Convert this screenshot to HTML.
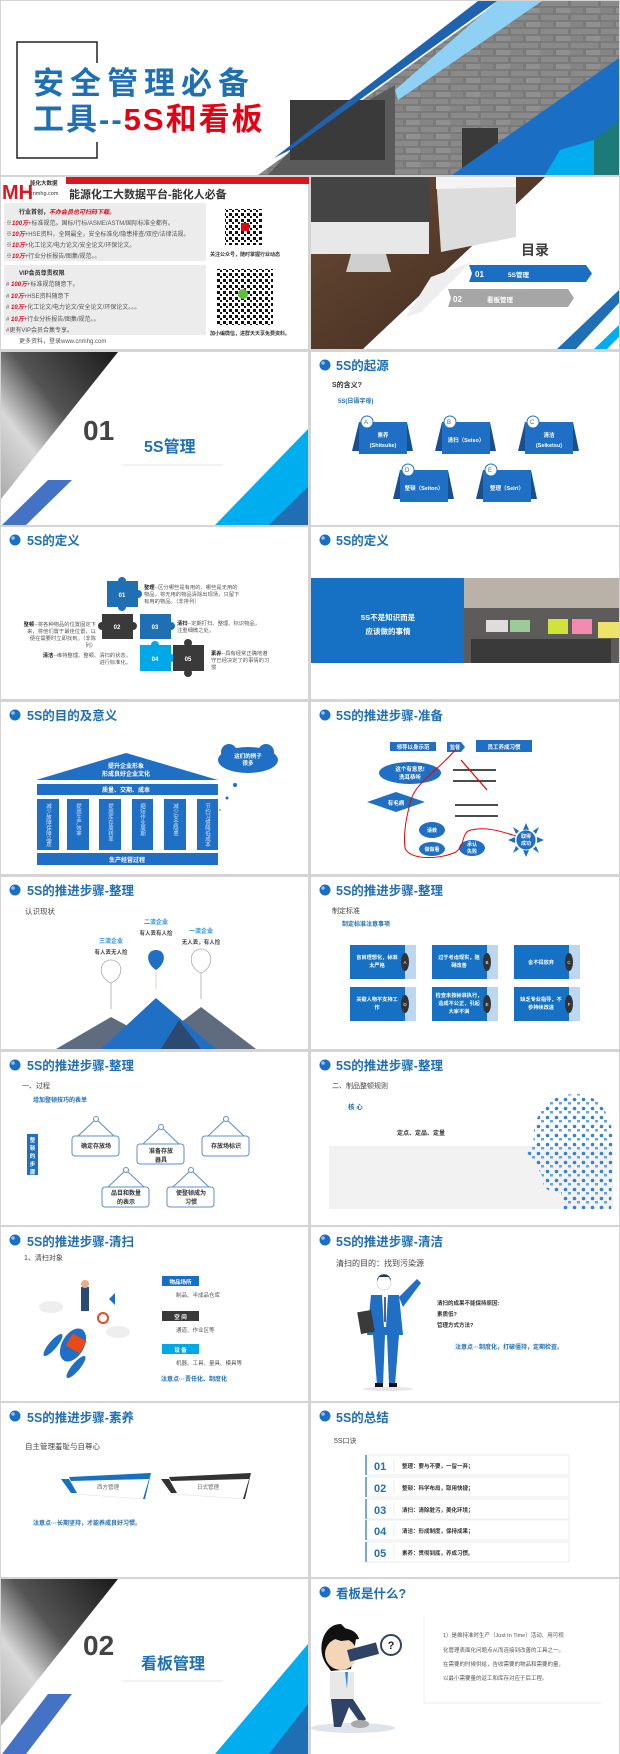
<!DOCTYPE html>
<html><head><meta charset="utf-8">
<style>
html,body{margin:0;padding:0;background:#d4d4d4;}
svg{display:block;font-family:"Liberation Sans","Noto Sans CJK SC",sans-serif;}
.h{font-size:12.5px;font-weight:bold;fill:#1f6fb5;}
.s{font-size:6px;fill:#555;}
.w{fill:#fff;font-weight:bold;}
.b{fill:#1f6fb5;font-weight:bold;}
</style></head><body>
<svg width="620" height="1754" viewBox="0 0 620 1754" xmlns="http://www.w3.org/2000/svg">
<defs>
<linearGradient id="gphoto" x1="0" y1="0" x2="1" y2="1"><stop offset="0" stop-color="#6a6a6a"/><stop offset="1" stop-color="#9a9a9a"/></linearGradient>
<linearGradient id="ghand" x1="1" y1="0" x2="0" y2="1"><stop offset="0" stop-color="#1a1a1a"/><stop offset="0.45" stop-color="#555"/><stop offset="0.7" stop-color="#d8d8d8"/><stop offset="1" stop-color="#aaa"/></linearGradient>
<linearGradient id="gwood" x1="0" y1="0" x2="1" y2="1"><stop offset="0" stop-color="#6b4a35"/><stop offset="1" stop-color="#3d2a1e"/></linearGradient>
<pattern id="qr" width="6" height="6" patternUnits="userSpaceOnUse"><rect width="6" height="6" fill="#fff"/><rect width="3" height="3" fill="#111"/><rect x="3" y="3" width="2" height="2" fill="#111"/></pattern>
<pattern id="brick" width="30" height="14" patternUnits="userSpaceOnUse"><rect width="30" height="14" fill="#7a7a7a"/><rect x="1" y="1" width="27" height="5" fill="#8a8a8a"/><rect x="-14" y="8" width="27" height="5" fill="#858585"/><rect x="16" y="8" width="27" height="5" fill="#909090"/></pattern>
<pattern id="icons" width="9" height="9" patternUnits="userSpaceOnUse"><circle cx="2.5" cy="2.5" r="1.8" fill="#2b7bd0"/><rect x="5" y="5" width="3" height="2.5" fill="#5aa0e6"/></pattern>
<g id="hdr"><circle cx="14" cy="13" r="5.5" fill="#1a6fc4"/><circle cx="12" cy="11" r="1.8" fill="#8fc3f0"/></g>
</defs>

<!-- ===== TITLE SLIDE ===== -->
<rect x="1" y="1" width="618" height="174" fill="#fff"/>
<polygon points="500,1 619,1 619,175 258,175" fill="url(#brick)"/>
<polygon points="268,175 300,140 395,85 395,175" fill="#5a5a5a"/>
<rect x="290" y="100" width="95" height="60" fill="#3a3a3a"/>
<polygon points="497,1 542,1 398,100 395,90" fill="#8fd0f5"/>
<polygon points="478,1 497,1 290,150 274,158" fill="#1f62ad"/>
<rect x="462" y="128" width="36" height="40" fill="#3a3a3a"/>
<polygon points="619,58 619,175 452,175" fill="#1a6fc4"/>
<polygon points="594,140 619,120 619,175 594,175" fill="#1e7a78"/>
<polygon points="560,150 594,140 594,175 545,175" fill="#00aeef"/>
<polyline points="97,63 97,42 17,42 17,158 97,158 97,142" fill="none" stroke="#222" stroke-width="1.5"/>
<text x="33" y="94" style="font-size:31px;font-weight:bold;letter-spacing:6px;fill:#1f6fb5">安全管理必备</text>
<text x="33" y="130" style="font-size:31px;font-weight:bold;letter-spacing:2px;fill:#1f6fb5">工具--<tspan fill="#e60012">5S和看板</tspan></text>

<!-- ===== ROW 0 LEFT ===== -->
<g transform="translate(1,177)">
<rect width="307" height="172" fill="#fff"/>
<rect x="65" y="0" width="243" height="7" fill="#d7191f"/>
<text x="1" y="22" style="font-size:20px;font-weight:bold;fill:#d7191f">MH</text>
<text x="29" y="8" style="font-size:5.5px;fill:#333;font-weight:bold">能化大数据</text>
<text x="29" y="18" style="font-size:5.5px;fill:#333">cnmhg.com</text>
<text x="68" y="21" style="font-size:11px;font-weight:bold;fill:#333">能源化工大数据平台-能化人必备</text>
<rect x="3" y="26" width="202" height="58" fill="#ececec"/>
<text x="18" y="37" class="s" style="font-weight:bold;fill:#333">行业首创，<tspan fill="#e60012" font-style="italic">不办会员也可扫码下载。</tspan></text>
<text x="5" y="48" class="s">※<tspan fill="#e60012" font-weight="bold" font-style="italic">100万</tspan>+标准规范。国标/行标/ASME/ASTM/国际标准全都有。</text>
<text x="5" y="59" class="s">※<tspan fill="#e60012" font-weight="bold" font-style="italic">10万</tspan>+HSE资料，全网最全，安全标准化/隐患排查/双控/法律法规。</text>
<text x="5" y="70" class="s">※<tspan fill="#e60012" font-weight="bold" font-style="italic">10万</tspan>+化工论文/电力论文/安全论文/环保论文。</text>
<text x="5" y="81" class="s">※<tspan fill="#e60012" font-weight="bold" font-style="italic">10万</tspan>+行业分析报告/图集/规范。。</text>
<rect x="3" y="88" width="202" height="70" fill="#ececec"/>
<text x="18" y="98" class="s" style="font-weight:bold;fill:#333">VIP会员尊贵权限</text>
<text x="5" y="109" class="s"># <tspan fill="#e60012" font-weight="bold" font-style="italic">100万</tspan>+标准规范随意下。</text>
<text x="5" y="121" class="s"># <tspan fill="#e60012" font-weight="bold" font-style="italic">10万</tspan>+HSE资料随意下</text>
<text x="5" y="132" class="s"># <tspan fill="#e60012" font-weight="bold" font-style="italic">10万</tspan>+化工论文/电力论文/安全论文/环保论文。。。</text>
<text x="5" y="144" class="s"># <tspan fill="#e60012" font-weight="bold" font-style="italic">10万</tspan>+行业分析报告/图集/规范。。</text>
<text x="5" y="155" class="s">#更有VIP会员合集专享。</text>
<text x="18" y="166" class="s">更多资料，登录www.cnmhg.com</text>
<rect x="224" y="32" width="37" height="36" fill="url(#qr)"/>
<rect x="240" y="46" width="8" height="8" fill="#e60012"/>
<text x="209" y="79" style="font-size:5px;fill:#333;font-weight:bold">关注公众号，随时掌握行业动态</text>
<rect x="216" y="92" width="56" height="56" fill="url(#qr)"/>
<circle cx="242" cy="117" r="5" fill="#5bbf3a"/>
<text x="209" y="158" style="font-size:5px;fill:#333;font-weight:bold">加小编微信，进群天天享免费资料。</text>
</g>

<!-- ===== ROW 0 RIGHT ===== -->
<g transform="translate(311,177)">
<rect width="308" height="172" fill="#fff"/>
<polygon points="0,0 234,0 52,172 0,172" fill="url(#gwood)"/>
<rect x="0" y="0" width="118" height="45" fill="#444"/>
<rect x="0" y="45" width="118" height="32" fill="#e8e8e8"/>
<polygon points="40,77 75,77 80,95 35,95" fill="#cfcfcf"/>
<polygon points="125,0 205,0 205,60 130,75" fill="#ddd"/>
<polygon points="125,0 205,0 205,10 125,12" fill="#f4f4f4"/>
<polygon points="120,100 160,85 110,135 95,140" fill="#eee"/>
<text x="210" y="78" style="font-size:14px;font-weight:bold;fill:#404040">目录</text>
<polygon points="158,88 275,88 281,96.5 275,105 158,105 161,96.5" fill="#1a6fc4"/>
<text x="164" y="100" class="w" style="font-size:8px">01</text>
<text x="197" y="100" class="w" style="font-size:6.5px">5S管理</text>
<polygon points="137,112 257,112 263,121 257,130 137,130 140,121" fill="#a6a6a6"/>
<text x="142" y="125" class="w" style="font-size:8px">02</text>
<text x="176" y="125" class="w" style="font-size:6.5px">看板管理</text>
<polygon points="308,113 308,126 265,172 246,172" fill="#1f6fb5"/>
<polygon points="308,148 308,160 296,172 283,172" fill="#00aeef"/>
</g>

<!-- ===== ROW 1 LEFT (01) ===== -->
<g transform="translate(1,352)">
<rect width="307" height="173" fill="#fff"/>
<polygon points="0,0 117,0 0,147" fill="url(#ghand)"/>
<polygon points="47,128 71,128 25,173 1,173" fill="#4472c4"/>
<polygon points="307,77 307,173 214,173" fill="#00aeef"/>
<polygon points="307,135 307,173 268,173" fill="#1f6fb5"/>
<text x="82" y="88" style="font-size:28px;font-weight:bold;fill:#444">01</text>
<text x="143" y="100" style="font-size:16px;font-weight:bold;fill:#1f6fb5">5S管理</text>
<line x1="122" y1="113" x2="222" y2="113" stroke="#e6e6e6"/>
</g>

<!-- ===== ROW 1 RIGHT (5S origin) ===== -->
<g transform="translate(311,352)">
<rect width="308" height="173" fill="#fff"/>
<use href="#hdr"/><text x="25" y="18" class="h">5S的起源</text>
<text x="21" y="35" style="font-size:7px;font-weight:bold;fill:#333">S的含义?</text>
<text x="27" y="51" style="font-size:6px;font-weight:bold;fill:#1f6fb5">5S(日语字母)</text>
<g id="card">
<polygon points="48,70 96,70 102,99 41,99" fill="#1a4f8f"/>
<rect x="48" y="70" width="48" height="32" fill="#1f6fc4"/>
<circle cx="56" cy="70" r="6" fill="#fff" stroke="#1f6fc4"/>
</g>
<text x="53" y="72" style="font-size:6px;fill:#1f6fb5">A</text>
<text x="72" y="85" class="w" style="font-size:5.5px" text-anchor="middle">素养</text>
<text x="72" y="95" class="w" style="font-size:5.5px" text-anchor="middle">(Shitsuke)</text>
<use href="#card" x="83"/><text x="136" y="72" style="font-size:6px;fill:#1f6fb5">B</text>
<text x="155" y="90" class="w" style="font-size:5.5px" text-anchor="middle">清扫（Seiso）</text>
<use href="#card" x="166"/><text x="219" y="72" style="font-size:6px;fill:#1f6fb5">C</text>
<text x="238" y="85" class="w" style="font-size:5.5px" text-anchor="middle">清洁</text>
<text x="238" y="95" class="w" style="font-size:5.5px" text-anchor="middle">(Seiketsu)</text>
<use href="#card" x="41" y="48"/><text x="94" y="120" style="font-size:6px;fill:#1f6fb5">D</text>
<text x="113" y="138" class="w" style="font-size:5.5px" text-anchor="middle">整顿（Seiton）</text>
<use href="#card" x="124" y="48"/><text x="177" y="120" style="font-size:6px;fill:#1f6fb5">E</text>
<text x="196" y="138" class="w" style="font-size:5.5px" text-anchor="middle">整理（Seiri）</text>
</g>

<!-- ===== ROW 2 LEFT (定义 puzzle) ===== -->
<g transform="translate(1,527)">
<rect width="307" height="172" fill="#fff"/>
<use href="#hdr"/><text x="26" y="18" class="h">5S的定义</text>
<g font-size="6" font-weight="bold" fill="#fff" text-anchor="middle">
<rect x="106" y="54" width="31" height="26" fill="#1f6fb5"/><circle cx="121" cy="54" r="4" fill="#1f6fb5"/><circle cx="121" cy="80" r="4" fill="#1f6fb5"/><circle cx="137" cy="67" r="4" fill="#1f6fb5"/><text x="121" y="70">01</text>
<rect x="101" y="87" width="31" height="25" fill="#3a3a3a"/><circle cx="101" cy="99" r="4" fill="#3a3a3a"/><circle cx="132" cy="99" r="4" fill="#3a3a3a"/><text x="116" y="102">02</text>
<rect x="139" y="87" width="31" height="25" fill="#1f6fb5"/><circle cx="170" cy="99" r="4" fill="#1f6fb5"/><text x="154" y="102">03</text>
<rect x="139" y="118" width="31" height="26" fill="#00a8e8"/><circle cx="154" cy="118" r="4" fill="#00a8e8"/><circle cx="170" cy="131" r="4" fill="#00a8e8"/><text x="154" y="134">04</text>
<rect x="172" y="118" width="31" height="26" fill="#3a3a3a"/><circle cx="187" cy="116" r="4" fill="#3a3a3a"/><circle cx="187" cy="146" r="4" fill="#3a3a3a"/><text x="187" y="134">05</text>
</g>
<g style="font-size:5.3px;fill:#555">
<text x="143" y="62"><tspan font-weight="bold" fill="#222">整理</tspan>--区分哪些是有用的、哪些是无用的</text>
<text x="143" y="69">物品，将无用的物品清除出现场，只留下</text>
<text x="143" y="76">有用的物品。（非排列）</text>
<text x="95" y="99" text-anchor="end"><tspan font-weight="bold" fill="#222">整顿</tspan>--将各种物品的位置固定下</text>
<text x="95" y="106" text-anchor="end">来，将他们置于最佳位置，以</text>
<text x="95" y="113" text-anchor="end">便在需要时立即找到。（非陈</text>
<text x="95" y="120" text-anchor="end">列）</text>
<text x="176" y="98"><tspan font-weight="bold" fill="#222">清扫</tspan>--定期打扫、整理、标识物品，</text>
<text x="176" y="105">注重细微之处。</text>
<text x="130" y="130" text-anchor="end"><tspan font-weight="bold" fill="#222">清洁</tspan>--维持整理、整顿、清扫的状态，</text>
<text x="130" y="137" text-anchor="end">进行标准化。</text>
<text x="210" y="128"><tspan font-weight="bold" fill="#222">素养</tspan>--具有经常正确地遵</text>
<text x="210" y="135">守已经决定了的事情的习</text>
<text x="210" y="142">惯</text>
</g>
</g>

<!-- ===== ROW 2 RIGHT ===== -->
<g transform="translate(311,527)">
<rect width="308" height="172" fill="#fff"/>
<use href="#hdr"/><text x="25" y="18" class="h">5S的定义</text>
<rect x="0" y="51" width="153" height="85" fill="#1670c4"/>
<rect x="153" y="51" width="155" height="85" fill="#5e5c5a"/>
<rect x="153" y="51" width="155" height="30" fill="#b8b2a8"/>
<rect x="175" y="93" width="22" height="12" fill="#ddd"/><rect x="199" y="93" width="20" height="12" fill="#9c9"/>
<rect x="237" y="92" width="20" height="15" fill="#cfe33a"/><rect x="261" y="92" width="20" height="15" fill="#f58ab0"/><rect x="287" y="95" width="21" height="16" fill="#eee36a"/>
<rect x="160" y="112" width="140" height="24" fill="#3a3a3a"/>
<text x="77" y="93" class="w" style="font-size:7.5px" text-anchor="middle">5S不是知识而是</text>
<text x="77" y="107" class="w" style="font-size:7.5px" text-anchor="middle">应该做的事情</text>
</g>

<!-- ===== ROW 3 LEFT (temple) ===== -->
<g transform="translate(1,702)">
<rect width="307" height="172" fill="#fff"/>
<use href="#hdr"/><text x="26" y="18" class="h">5S的目的及意义</text>
<polygon points="35,78 125,51 217,78" fill="#1f6fc4"/>
<text x="125" y="66" class="w" style="font-size:6px" text-anchor="middle">提升企业形象</text>
<text x="125" y="74" class="w" style="font-size:6px" text-anchor="middle">形成良好企业文化</text>
<rect x="36" y="82" width="181" height="11" fill="#1f6fc4"/>
<text x="125" y="90" class="w" style="font-size:6px" text-anchor="middle">质量、交期、成本</text>
<g fill="#1f6fc4">
<rect x="36" y="97" width="22" height="51"/><rect x="66" y="97" width="22" height="51"/><rect x="98" y="97" width="22" height="51"/><rect x="131" y="97" width="21" height="51"/><rect x="163" y="97" width="22" height="51"/><rect x="196" y="97" width="21" height="51"/>
</g>
<g style="font-size:5.5px;fill:#cfe2f7" writing-mode="tb">
<text x="47" y="101">减少故障保障品质</text><text x="77" y="101">提高生产效率</text><text x="109" y="101">提高库存周转率</text><text x="141" y="101">缩短作业周期</text><text x="174" y="101">减少安全隐患</text><text x="206" y="101">节约习惯降低成本</text>
</g>
<rect x="36" y="151" width="181" height="12" fill="#1f6fc4"/>
<text x="126" y="160" class="w" style="font-size:6px" text-anchor="middle">生产经营过程</text>
<ellipse cx="247" cy="58" rx="30" ry="13" fill="#1f6fc4"/>
<circle cx="228" cy="50" r="8" fill="#1f6fc4"/><circle cx="265" cy="50" r="8" fill="#1f6fc4"/>
<text x="247" y="56" class="w" style="font-size:5.5px" text-anchor="middle">这们的例子</text>
<text x="247" y="63" class="w" style="font-size:5.5px" text-anchor="middle">很多</text>
<circle cx="234" cy="83" r="2" fill="#1f6fc4"/><circle cx="226" cy="96" r="1.5" fill="#1f6fc4"/><circle cx="219" cy="108" r="0.8" fill="#1f6fc4"/>
</g>

<!-- ===== ROW 3 RIGHT (准备) ===== -->
<g transform="translate(311,702)">
<rect width="308" height="172" fill="#fff"/>
<use href="#hdr"/><text x="25" y="18" class="h">5S的推进步骤-准备</text>
<rect x="79" y="40" width="46" height="9" fill="#1f6fc4"/><text x="102" y="47" class="w" style="font-size:5.5px" text-anchor="middle">领导以身示范</text>
<polygon points="136,40 150,40 154,45 150,50 136,50" fill="#1f6fc4"/><text x="139" y="47" class="w" style="font-size:5px">监督</text>
<rect x="165" y="38" width="56" height="12" fill="#1f6fc4"/><text x="193" y="47" class="w" style="font-size:5.5px" text-anchor="middle">员工养成习惯</text>
<ellipse cx="99" cy="71" rx="31" ry="11" fill="#1f6fc4"/>
<text x="99" y="69" class="w" style="font-size:5.5px" text-anchor="middle">这个有意思!</text>
<text x="99" y="77" class="w" style="font-size:5.5px" text-anchor="middle">洗耳恭听</text>
<polygon points="56,100 85,90 114,100 85,110" fill="#1f6fc4"/>
<text x="85" y="103" class="w" style="font-size:5.5px" text-anchor="middle">有毛病</text>
<g stroke="#111" stroke-width="1.6"><line x1="142" y1="68" x2="185" y2="68"/><line x1="142" y1="79" x2="185" y2="79"/><line x1="144" y1="103" x2="187" y2="103"/><line x1="144" y1="114" x2="187" y2="114"/></g>
<line x1="150" y1="58" x2="176" y2="88" stroke="#e00" stroke-width="1.2"/>
<ellipse cx="121" cy="128" rx="13" ry="8" fill="#1f6fc4"/><text x="121" y="130" class="w" style="font-size:5px" text-anchor="middle">请教</text>
<ellipse cx="121" cy="147" rx="13" ry="7" fill="#1f6fc4"/><text x="121" y="149" class="w" style="font-size:5px" text-anchor="middle">做做看</text>
<ellipse cx="161" cy="146" rx="13" ry="8" fill="#1f6fc4"/><text x="161" y="144" class="w" style="font-size:5px" text-anchor="middle">承认</text><text x="161" y="151" class="w" style="font-size:5px" text-anchor="middle">失败</text>
<g fill="#1f6fc4"><polygon points="215,121 218,128 212,128"/><polygon points="215,155 218,148 212,148"/><polygon points="197,138 204,135 204,141"/><polygon points="233,138 226,135 226,141"/><polygon points="202,125 208,129 205,132"/><polygon points="228,125 222,129 225,132"/><polygon points="202,151 208,147 205,144"/><polygon points="228,151 222,147 225,144"/></g>
<circle cx="215" cy="138" r="10" fill="#1f6fc4" stroke="#fff" stroke-width="0.8"/>
<text x="215" y="136" class="w" style="font-size:5px" text-anchor="middle">取得</text><text x="215" y="143" class="w" style="font-size:5px" text-anchor="middle">成功</text>
<path d="M145,47 C128,68 105,80 100,98 C96,112 92,130 94,146 C98,158 128,158 145,150 C155,142 150,130 160,128 C175,124 192,130 205,134" fill="none" stroke="#e00" stroke-width="1"/>
</g>

<!-- ===== ROW 4 LEFT (认识现状) ===== -->
<g transform="translate(1,877)">
<rect width="307" height="172" fill="#fff"/>
<use href="#hdr"/><text x="26" y="18" class="h">5S的推进步骤-整理</text>
<text x="24" y="37" style="font-size:7.5px;fill:#444">认识现状</text>
<polygon points="55,172 110,140 170,172" fill="#5f6b7e"/>
<polygon points="145,172 200,130 255,172" fill="#5f6b7e"/>
<polygon points="100,172 155,121 215,172" fill="#1f6fc4"/>
<polygon points="160,172 178,143 200,172" fill="#2c4a70"/>
<g stroke="#aaa" fill="#fff" stroke-width="0.8">
<path d="M110,106 C96,100 98,83 110,83 C122,83 124,100 110,106 Z"/><line x1="110" y1="106" x2="110" y2="132"/>
<path d="M200,96 C186,90 188,72 200,72 C212,72 214,90 200,96 Z"/><line x1="200" y1="96" x2="200" y2="122"/>
</g>
<path d="M155,93 C144,86 145,73 155,73 C165,73 166,86 155,93 Z" fill="#1f6fc4"/>
<line x1="155" y1="93" x2="155" y2="112" stroke="#e8b08a" stroke-width="0.6"/>
<text x="110" y="66" style="font-size:6px;font-weight:bold;fill:#1f8fd8" text-anchor="middle">三流企业</text>
<text x="110" y="77" style="font-size:5.5px;fill:#444;font-weight:bold" text-anchor="middle">有人丢无人捡</text>
<text x="155" y="47" style="font-size:6px;font-weight:bold;fill:#1f8fd8" text-anchor="middle">二流企业</text>
<text x="155" y="58" style="font-size:5.5px;fill:#444;font-weight:bold" text-anchor="middle">有人丢有人捡</text>
<text x="200" y="56" style="font-size:6px;font-weight:bold;fill:#1f8fd8" text-anchor="middle">一流企业</text>
<text x="200" y="67" style="font-size:5.5px;fill:#444;font-weight:bold" text-anchor="middle">无人丢，有人捡</text>
</g>

<!-- ===== ROW 4 RIGHT (cards) ===== -->
<g transform="translate(311,877)">
<rect width="308" height="172" fill="#fff"/>
<use href="#hdr"/><text x="25" y="18" class="h">5S的推进步骤-整理</text>
<text x="21" y="36" style="font-size:7px;fill:#444">制定标准</text>
<text x="31" y="49" style="font-size:6px;font-weight:bold;fill:#1f6fb5">制定标准注意事项</text>
<g id="sc">
<rect x="39" y="68" width="66" height="34" fill="#bcd7ef"/>
<rect x="39" y="68" width="55" height="34" fill="#1670c4"/>
<ellipse cx="94" cy="85" rx="4" ry="9" fill="#333"/>
</g>
<use href="#sc" x="82"/><use href="#sc" x="164"/>
<use href="#sc" y="42"/><use href="#sc" x="82" y="42"/><use href="#sc" x="164" y="42"/>
<g class="w" style="font-size:5.2px" text-anchor="middle">
<text x="66" y="82">盲目理想化，标准</text><text x="66" y="90">太严格</text>
<text x="148" y="82">过于考虑现实，阻</text><text x="148" y="90">碍改善</text>
<text x="230" y="87">舍不得放弃</text>
<text x="66" y="124">关键人物不支持工</text><text x="66" y="132">作</text>
<text x="148" y="120">检查未按标准执行，</text><text x="148" y="128">造成不公正，引起</text><text x="148" y="136">大家不满</text>
<text x="230" y="124">缺乏专业指导，不</text><text x="230" y="132">参持续改进</text>
</g>
<g style="font-size:4.5px;fill:#fff" text-anchor="middle"><text x="94" y="87">A</text><text x="176" y="87">B</text><text x="258" y="87">C</text><text x="94" y="129">D</text><text x="176" y="129">E</text><text x="258" y="129">F</text></g>
</g>

<!-- ===== ROW 5 LEFT (过程 signs) ===== -->
<g transform="translate(1,1052)">
<rect width="307" height="173" fill="#fff"/>
<use href="#hdr"/><text x="26" y="18" class="h">5S的推进步骤-整理</text>
<text x="21" y="36" style="font-size:7px;fill:#444">一、过程</text>
<text x="32" y="50" style="font-size:6px;font-weight:bold;fill:#1f6fb5">增加整顿技巧的表单</text>
<rect x="26" y="82" width="11" height="41" fill="#1f6fc4"/>
<g class="w" style="font-size:5.5px" text-anchor="middle"><text x="31.5" y="90">整</text><text x="31.5" y="98">顿</text><text x="31.5" y="106">的</text><text x="31.5" y="114">步</text><text x="31.5" y="122">骤</text></g>
<g id="sign" fill="#fff" stroke="#5b8fc8" stroke-width="1">
<polyline points="77,84 95,67 113,84"/><circle cx="95" cy="67" r="2.5"/>
<rect x="71" y="84" width="47" height="20" rx="3"/>
</g>
<use href="#sign" x="65" y="8"/><use href="#sign" x="130"/><use href="#sign" x="30" y="51"/><use href="#sign" x="95" y="51"/>
<g style="font-size:6px;fill:#333;font-weight:bold" text-anchor="middle">
<text x="95" y="96">确定存放场</text>
<text x="160" y="101">准备存放</text><text x="160" y="110">器具</text>
<text x="225" y="96">存放场标识</text>
<text x="125" y="143">品目和数量</text><text x="125" y="152">的表示</text>
<text x="190" y="143">使整顿成为</text><text x="190" y="152">习惯</text>
</g>
</g>

<!-- ===== ROW 5 RIGHT (head) ===== -->
<g transform="translate(311,1052)">
<rect width="308" height="173" fill="#fff"/>
<use href="#hdr"/><text x="25" y="18" class="h">5S的推进步骤-整理</text>
<text x="21" y="36" style="font-size:7px;fill:#444">二、制品整顿规则</text>
<text x="37" y="57" style="font-size:6.5px;font-weight:bold;fill:#1f6fb5">核 心</text>
<rect x="18" y="94" width="284" height="63" fill="#f2f2f2"/>
<text x="86" y="83" style="font-size:6px;font-weight:bold;fill:#333">定点、定品、定量</text>
<path d="M262,42 C285,40 302,60 302,90 L300,158 L252,158 L250,140 C240,142 230,136 232,126 L227,116 L223,108 L215,100 L223,92 C219,65 238,42 262,42 Z" fill="url(#icons)" opacity="0.95"/>
</g>

<!-- ===== ROW 6 LEFT (清扫) ===== -->
<g transform="translate(1,1227)">
<rect width="307" height="174" fill="#fff"/>
<use href="#hdr"/><text x="26" y="19" class="h">5S的推进步骤-清扫</text>
<text x="23" y="33" style="font-size:7px;fill:#444">1、清扫对象</text>
<rect x="161" y="49" width="37" height="10" fill="#1670c4"/><text x="179.5" y="57" class="w" style="font-size:5.5px" text-anchor="middle">物品场所</text>
<text x="175" y="70" style="font-size:5.5px;fill:#555">制品、半成品仓库</text>
<rect x="161" y="84" width="37" height="10" fill="#3a3a3a"/><text x="179.5" y="92" class="w" style="font-size:5.5px" text-anchor="middle">空 间</text>
<text x="175" y="105" style="font-size:5.5px;fill:#555">通道、作业区等</text>
<rect x="161" y="117" width="37" height="10" fill="#00a8e8"/><text x="179.5" y="125" class="w" style="font-size:5.5px" text-anchor="middle">设 备</text>
<text x="175" y="138" style="font-size:5.5px;fill:#555">机器、工具、量具、模具等</text>
<text x="160" y="154" style="font-size:6px;font-weight:bold;fill:#1f6fb5">注意点···责任化、制度化</text>
<ellipse cx="50" cy="80" rx="12" ry="6" fill="#eee"/><ellipse cx="117" cy="105" rx="12" ry="6" fill="#eee"/>
<ellipse cx="72" cy="118" rx="11" ry="18" fill="#1f6fc4" transform="rotate(30 72 118)"/>
<rect x="66" y="108" width="16" height="14" fill="#e84a1a" transform="rotate(30 72 118)"/>
<ellipse cx="52" cy="118" rx="4" ry="14" fill="#1f6fc4" transform="rotate(40 52 118)"/>
<ellipse cx="75" cy="140" rx="4" ry="14" fill="#1f6fc4" transform="rotate(40 75 140)"/>
<circle cx="102" cy="91" r="5" fill="none" stroke="#e84a1a" stroke-width="2"/>
<rect x="80" y="60" width="8" height="24" fill="#2a4a7a"/><circle cx="84" cy="57" r="4" fill="#e8b08a"/>
<polygon points="108,72 114,66 114,78" fill="#1f6fc4"/>
</g>

<!-- ===== ROW 6 RIGHT (清洁) ===== -->
<g transform="translate(311,1227)">
<rect width="308" height="174" fill="#fff"/>
<use href="#hdr"/><text x="25" y="19" class="h">5S的推进步骤-清洁</text>
<text x="25" y="39" style="font-size:8px;fill:#444">清扫的目的：找到污染源</text>
<ellipse cx="77" cy="162" rx="25" ry="2" fill="#e6e6e6"/>
<circle cx="73" cy="56" r="7" fill="#fff" stroke="#ddd"/><path d="M66,54 C66,45 80,45 80,54 L78,50 L68,50 Z" fill="#1a3a6a"/>
<polygon points="60,68 88,68 92,108 56,108" fill="#1f6fc4"/>
<polygon points="71,68 77,68 75,100 73,100" fill="#fff"/><line x1="74" y1="70" x2="74" y2="95" stroke="#1a2a5a" stroke-width="1.5"/>
<polygon points="88,70 106,52 110,56 92,80" fill="#1f6fc4"/>
<rect x="48" y="84" width="14" height="22" fill="#3a3a3a" transform="rotate(-10 55 95)"/>
<polygon points="62,108 74,108 72,158 66,158" fill="#1f6fc4"/><polygon points="76,108 88,108 84,158 78,158" fill="#1f6fc4"/>
<rect x="64" y="156" width="8" height="4" fill="#111"/><rect x="78" y="156" width="8" height="4" fill="#111"/>
<g style="font-size:5.5px;fill:#333;font-weight:bold"><text x="126" y="78">清扫的成果不能保持原因:</text><text x="126" y="89">素质低?</text><text x="126" y="100">管理方式方法?</text></g>
<text x="144" y="122" style="font-size:6px;font-weight:bold;fill:#1f6fb5">注意点···制度化，打破僵持，定期检查。</text>
</g>

<!-- ===== ROW 7 LEFT (素养) ===== -->
<g transform="translate(1,1403)">
<rect width="307" height="174" fill="#fff"/>
<use href="#hdr"/><text x="26" y="19" class="h">5S的推进步骤-素养</text>
<text x="24" y="46" style="font-size:7.5px;fill:#444">自主管理羞耻与自尊心</text>
<polygon points="67,76 150,70 143,96 73,91" fill="#fff" stroke="#ddd" stroke-width="0.5"/>
<polygon points="68,74 150,70 148,76 70,78" fill="#1670c4"/><polygon points="150,70 148,76 142,96 144,96" fill="#1670c4"/>
<polygon points="60,76 68,76 76,90 70,90" fill="#1670c4"/>
<text x="107" y="86" style="font-size:5.5px;fill:#666" text-anchor="middle">西方管理</text>
<polygon points="167,76 250,70 243,96 173,91" fill="#fff" stroke="#ddd" stroke-width="0.5"/>
<polygon points="168,74 250,70 248,76 170,78" fill="#333"/><polygon points="250,70 248,76 242,96 244,96" fill="#333"/>
<polygon points="160,76 168,76 176,90 170,90" fill="#333"/>
<text x="207" y="86" style="font-size:5.5px;fill:#666" text-anchor="middle">日式管理</text>
<text x="32" y="122" style="font-size:6px;font-weight:bold;fill:#1f6fb5">注意点···长期坚持，才能养成良好习惯。</text>
</g>

<!-- ===== ROW 7 RIGHT (总结) ===== -->
<g transform="translate(311,1403)">
<rect width="308" height="174" fill="#fff"/>
<use href="#hdr"/><text x="25" y="19" class="h">5S的总结</text>
<text x="23" y="40" style="font-size:7px;fill:#444">5S口诀</text>
<g id="li"><rect x="55" y="52" width="203" height="20" fill="#fff" stroke="#eee"/><line x1="55" y1="52" x2="55" y2="72" stroke="#1f6fc4" stroke-width="1.2"/><line x1="83" y1="55" x2="83" y2="69" stroke="#eee"/></g>
<use href="#li" y="22"/><use href="#li" y="44"/><use href="#li" y="65"/><use href="#li" y="87"/>
<g style="font-size:11px;font-weight:bold;fill:#1f6fb5"><text x="63" y="67">01</text><text x="63" y="89">02</text><text x="63" y="111">03</text><text x="63" y="132">04</text><text x="63" y="154">05</text></g>
<g style="font-size:5.5px;font-weight:bold;fill:#333"><text x="91" y="65">整理：要与不要，一留一弃；</text><text x="91" y="87">整顿：科学布局，取用快捷；</text><text x="91" y="109">清扫：清除脏污，美化环境；</text><text x="91" y="130">清洁：形成制度，保持成果；</text><text x="91" y="152">素养：贯彻到底，养成习惯。</text></g>
</g>

<!-- ===== ROW 8 LEFT (02) ===== -->
<g transform="translate(1,1579)">
<rect width="307" height="175" fill="#fff"/>
<polygon points="0,0 117,0 0,147" fill="url(#ghand)"/>
<polygon points="47,115 71,115 25,175 1,175" fill="#4472c4"/>
<polygon points="307,65 307,175 214,175" fill="#00aeef"/>
<polygon points="307,125 307,175 268,175" fill="#1f6fb5"/>
<text x="82" y="76" style="font-size:28px;font-weight:bold;fill:#444">02</text>
<text x="140" y="90" style="font-size:16px;font-weight:bold;fill:#1f6fb5">看板管理</text>
<line x1="122" y1="102" x2="222" y2="102" stroke="#e6e6e6"/>
</g>

<!-- ===== ROW 8 RIGHT (看板是什么) ===== -->
<g transform="translate(311,1579)">
<rect width="308" height="175" fill="#fff"/>
<use href="#hdr"/><text x="25" y="19" class="h">看板是什么?</text>
<ellipse cx="42" cy="149" rx="42" ry="5" fill="#dfe3ea"/>
<path d="M30,45 C12,45 5,70 15,85 L20,92 L40,90 L45,60 Z" fill="#111"/>
<circle cx="30" cy="75" r="16" fill="#f5d5b8"/>
<path d="M18,58 C25,45 45,48 48,60 L30,62 Z" fill="#111"/>
<rect x="37" y="67" width="30" height="12" fill="#2f4366" transform="rotate(-15 52 73)"/>
<circle cx="80" cy="66" r="10" fill="#fff" stroke="#2f4366" stroke-width="2"/>
<text x="80" y="70" style="font-size:11px;font-weight:bold;fill:#222" text-anchor="middle">?</text>
<rect x="19" y="93" width="24" height="27" fill="#e8e8e8"/>
<polygon points="34,93 37,93 36,110" fill="#3a8ad8"/>
<polygon points="20,120 42,120 55,140 50,145 38,128 30,148 23,148" fill="#2f4366"/>
<ellipse cx="49" cy="145" rx="9" ry="4" fill="#a9a9a9"/>
<polyline points="113,36 113,124 290,124" fill="none" stroke="#eee" stroke-width="1"/>
<g style="font-size:5.5px;fill:#555"><text x="132" y="58">1）是维持准时生产（Just In Time）活动、用可视</text><text x="132" y="73">化管理表面化问题点从而连接到改善的工具之一。</text><text x="132" y="87">在需要的时候供给，告收需要的物品和需要的量，</text><text x="132" y="101">以最小需要量的返工和库存对应于后工程。</text></g>
</g>
</svg>
</body></html>
